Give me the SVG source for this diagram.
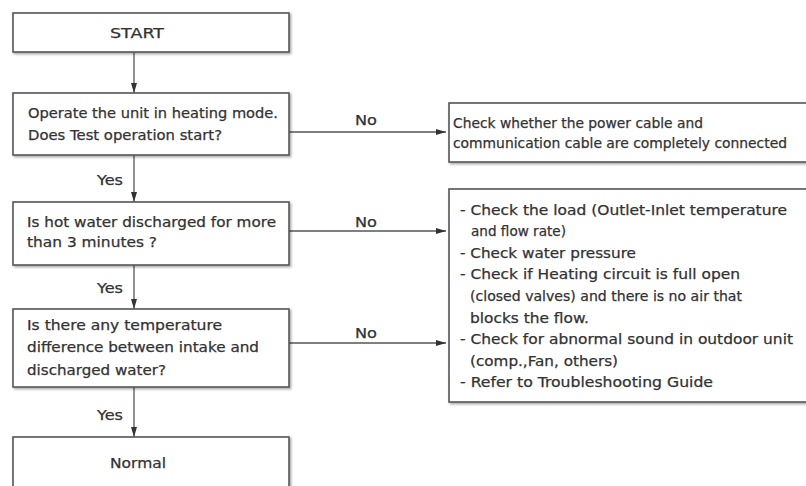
<svg xmlns="http://www.w3.org/2000/svg" width="806" height="486" viewBox="0 0 806 486">
<style>
.box{fill:#fff;stroke:#555;stroke-width:1.6;filter:url(#sh)}
.t{font-family:"DejaVu Sans",sans-serif;font-size:13.5px;fill:#333;stroke:#333;stroke-width:0.25}
.ln{stroke:#555;stroke-width:1.3;fill:none;marker-end:url(#ah)}
</style>
<defs>
<marker id="ah" viewBox="0 0 10 6" refX="10" refY="3" markerWidth="10" markerHeight="6" markerUnits="userSpaceOnUse" orient="auto">
<path d="M0,0 L10,3 L0,6 Z" fill="#333"/>
</marker>
<filter id="sh" x="-5%" y="-10%" width="110%" height="130%">
<feDropShadow dx="1.5" dy="1.5" stdDeviation="0.8" flood-color="#000" flood-opacity="0.35"/>
</filter>
</defs>
<rect width="806" height="486" fill="#fff"/>
<g id="connectors">
<line class="ln" x1="134" y1="52" x2="134" y2="93"/>
<line class="ln" x1="134" y1="155" x2="134" y2="202"/>
<line class="ln" x1="134" y1="265" x2="134" y2="309"/>
<line class="ln" x1="134" y1="387" x2="134" y2="437"/>
<line class="ln" x1="289" y1="132" x2="446" y2="132"/>
<line class="ln" x1="289" y1="231" x2="446" y2="231"/>
<line class="ln" x1="289" y1="343" x2="446" y2="343"/>
<text class="t" x="97" y="185" textLength="26" lengthAdjust="spacingAndGlyphs">Yes</text>
<text class="t" x="97" y="293" textLength="26" lengthAdjust="spacingAndGlyphs">Yes</text>
<text class="t" x="97" y="420" textLength="26" lengthAdjust="spacingAndGlyphs">Yes</text>
<text class="t" x="355" y="125" textLength="22" lengthAdjust="spacingAndGlyphs">No</text>
<text class="t" x="355" y="227" textLength="22" lengthAdjust="spacingAndGlyphs">No</text>
<text class="t" x="355" y="338" textLength="22" lengthAdjust="spacingAndGlyphs">No</text>
</g>
<g id="start">
<rect class="box" x="13" y="13" width="276" height="39"/>
<text class="t" x="110" y="38" textLength="54" lengthAdjust="spacingAndGlyphs">START</text>
</g>
<g id="q1">
<rect class="box" x="13" y="93" width="276" height="62"/>
<text class="t" x="28" y="118" textLength="250" lengthAdjust="spacingAndGlyphs">Operate the unit in heating mode.</text>
<text class="t" x="28" y="140" textLength="194" lengthAdjust="spacingAndGlyphs">Does Test operation start?</text>
</g>
<g id="q2">
<rect class="box" x="13" y="202" width="276" height="63"/>
<text class="t" x="27" y="227" textLength="249" lengthAdjust="spacingAndGlyphs">Is hot water discharged for more</text>
<text class="t" x="27" y="247" textLength="130" lengthAdjust="spacingAndGlyphs">than 3 minutes ?</text>
</g>
<g id="q3">
<rect class="box" x="13" y="309" width="276" height="78"/>
<text class="t" x="27" y="330" textLength="195" lengthAdjust="spacingAndGlyphs">Is there any temperature</text>
<text class="t" x="27" y="352" textLength="232" lengthAdjust="spacingAndGlyphs">difference between intake and</text>
<text class="t" x="27" y="375" textLength="139" lengthAdjust="spacingAndGlyphs">discharged water?</text>
</g>
<g id="normal">
<rect class="box" x="13" y="437" width="276" height="70"/>
<text class="t" x="110" y="468" textLength="56" lengthAdjust="spacingAndGlyphs">Normal</text>
</g>
<g id="check1">
<rect class="box" x="449" y="103" width="370" height="59"/>
<text class="t" x="453" y="128" textLength="250" lengthAdjust="spacingAndGlyphs">Check whether the power cable and</text>
<text class="t" x="453" y="148" textLength="334" lengthAdjust="spacingAndGlyphs">communication cable are completely connected</text>
</g>
<g id="check2">
<rect class="box" x="449" y="189" width="370" height="213"/>
<text class="t" x="460" y="214.5" textLength="327" lengthAdjust="spacingAndGlyphs">- Check the load (Outlet-Inlet temperature</text>
<text class="t" x="471" y="236" textLength="95" lengthAdjust="spacingAndGlyphs">and flow rate)</text>
<text class="t" x="460" y="257.5" textLength="176" lengthAdjust="spacingAndGlyphs">- Check water pressure</text>
<text class="t" x="460" y="279" textLength="280" lengthAdjust="spacingAndGlyphs">- Check if Heating circuit is full open</text>
<text class="t" x="470" y="301" textLength="272" lengthAdjust="spacingAndGlyphs">(closed valves) and there is no air that</text>
<text class="t" x="470" y="322.5" textLength="119" lengthAdjust="spacingAndGlyphs">blocks the flow.</text>
<text class="t" x="460" y="344" textLength="333" lengthAdjust="spacingAndGlyphs">- Check for abnormal sound in outdoor unit</text>
<text class="t" x="470" y="365.5" textLength="148" lengthAdjust="spacingAndGlyphs">(comp.,Fan, others)</text>
<text class="t" x="460" y="387" textLength="253" lengthAdjust="spacingAndGlyphs">- Refer to Troubleshooting Guide</text>
</g>
</svg>
